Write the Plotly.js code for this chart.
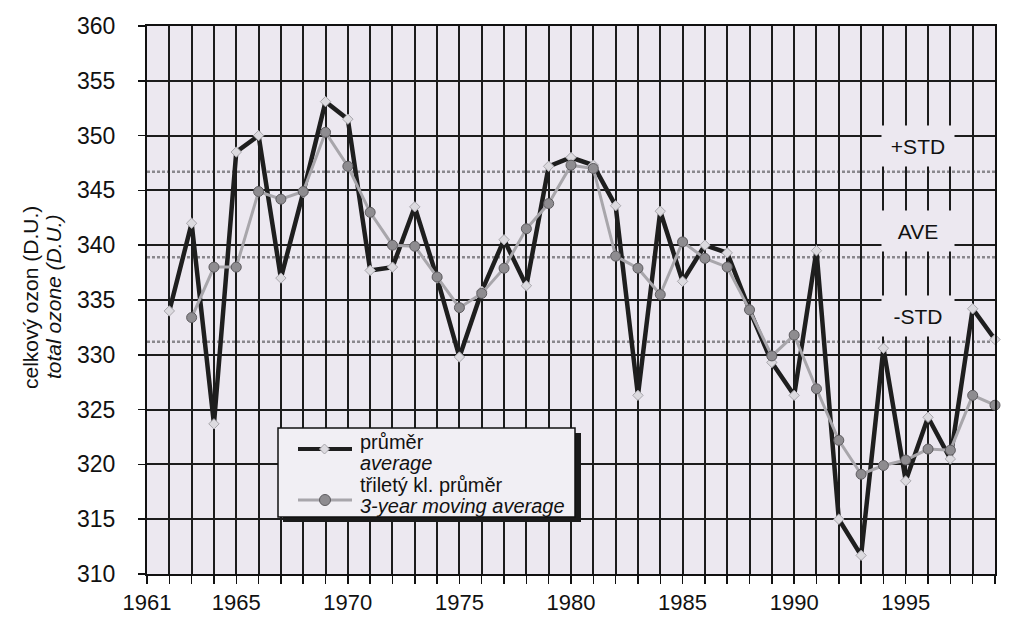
<!DOCTYPE html>
<html>
<head>
<meta charset="utf-8">
<script src="https://cdn.plot.ly/plotly-3.0.1.min.js"></script>
<style>html,body{margin:0;padding:0;background:#fff;}#chart{width:1024px;height:625px;}</style>
</head>
<body>
<div id="chart"></div>
<script>
// ---- data ----
const yearsAvg = [1962,1963,1964,1965,1966,1967,1968,1969,1970,1971,1972,1973,1974,1975,1976,1977,1978,1979,1980,1981,1982,1983,1984,1985,1986,1987,1988,1989,1990,1991,1992,1993,1994,1995,1996,1997,1998,1999];
const avgValues = [334.0,342.0,323.7,348.5,350.0,337.0,344.8,353.1,351.5,337.7,338.0,343.5,337.0,329.8,335.8,340.5,336.3,347.2,348.0,347.3,343.6,326.3,343.1,336.7,340.0,339.3,334.1,329.3,326.3,339.5,315.0,311.7,330.6,318.5,324.3,320.5,334.2,331.4];
const yearsMA = [1963,1964,1965,1966,1967,1968,1969,1970,1971,1972,1973,1974,1975,1976,1977,1978,1979,1980,1981,1982,1983,1984,1985,1986,1987,1988,1989,1990,1991,1992,1993,1994,1995,1996,1997,1998,1999];
const maValues = [333.4,338.0,338.0,344.9,344.2,344.9,350.3,347.2,343.0,340.0,339.9,337.1,334.3,335.6,337.9,341.5,343.8,347.3,347.0,339.0,337.9,335.5,340.3,338.8,338.0,334.1,329.9,331.8,326.9,322.2,319.1,319.9,320.4,321.4,321.3,326.3,325.4];
const refLevels = [346.7, 338.9, 331.2];
const refLabels = ['+STD', 'AVE', '-STD'];
const xTickVals = [1961,1965,1970,1975,1980,1985,1990,1995];
const xTickText = ['1961','1965','1970','1975','1980','1985','1990','1995'];
const yTitleLines = ['celkový ozon (D.U.)', '<i>total ozone (D.U.)</i>'];
const legendLines = ['průměr', '<i>average</i>', 'třiletý kl. průměr', '<i>3-year moving average</i>'];

// ---- geometry helpers (plot area in pixels) ----
const W = 1024, H = 625;
const M = {l:147, r:29, t:26, b:51};
const PL = M.l, PR = W - M.r, PT = M.t, PB = H - M.b;
const px = p => (p - PL) / (PR - PL);
const py = p => (PB - p) / (PB - PT);

const BG = '#ECE8F0';
const FONT = '"Liberation Sans", Arial, sans-serif';

const traces = [
  {
    x: yearsAvg, y: avgValues, type: 'scatter', mode: 'lines+markers', name: 'průměr',
    line: {color: '#1e1e1e', width: 4.5},
    marker: {symbol: 'diamond', size: 8, color: '#dcdadf', line: {color: '#a8a6ac', width: 1}},
    showlegend: false, cliponaxis: false
  },
  {
    x: yearsMA, y: maValues, type: 'scatter', mode: 'lines+markers', name: 'třiletý kl. průměr',
    line: {color: '#a8a6ab', width: 3},
    marker: {symbol: 'circle', size: 10, color: '#8e8c90', line: {color: '#5e5c60', width: 1}},
    showlegend: false, cliponaxis: false
  }
];

const shapes = [];
const annotations = [];

// reference lines (+STD, AVE, -STD)
refLevels.forEach((lv, i) => {
  shapes.push({type: 'line', xref: 'paper', yref: 'y', x0: 0, x1: 1, y0: lv, y1: lv,
    line: {color: '#8a888d', width: 2.5, dash: '3px,2px'}, layer: 'below'});
  annotations.push({xref: 'x', yref: 'y', x: 1995.55, y: lv, yshift: 26, text: refLabels[i],
    showarrow: false, font: {family: FONT, size: 21, color: '#111'},
    bgcolor: BG, width: 72, height: 40, borderpad: 0, xanchor: 'center', yanchor: 'middle'});
});

// y-axis title (two lines, placed precisely)
const yTitleX = [30, 53];
yTitleLines.forEach((t, i) => {
  annotations.push({xref: 'paper', yref: 'paper', x: px(yTitleX[i]), y: py(297), text: t, textangle: -90,
    showarrow: false, xanchor: 'center', yanchor: 'middle', font: {family: FONT, size: 21, color: '#111'}});
});

// manual legend box
shapes.push({type: 'rect', xref: 'paper', yref: 'paper', x0: px(283), x1: px(581), y0: py(522), y1: py(433),
  fillcolor: '#1a1a1a', line: {width: 0}, layer: 'above'});
shapes.push({type: 'rect', xref: 'paper', yref: 'paper', x0: px(278), x1: px(575), y0: py(517), y1: py(428),
  fillcolor: '#F1EFF4', line: {color: '#111', width: 1.5}, layer: 'above'});
// legend symbol 1
shapes.push({type: 'line', xref: 'paper', yref: 'paper', x0: px(298), x1: px(352), y0: py(449), y1: py(449),
  line: {color: '#1e1e1e', width: 4}, layer: 'above'});
shapes.push({type: 'path', xref: 'paper', yref: 'paper', layer: 'above',
  path: `M ${px(324.5)} ${py(444)} L ${px(329.5)} ${py(449)} L ${px(324.5)} ${py(454)} L ${px(319.5)} ${py(449)} Z`,
  fillcolor: '#dcdadf', line: {color: '#a8a6ac', width: 1}});
// legend symbol 2
shapes.push({type: 'line', xref: 'paper', yref: 'paper', x0: px(298), x1: px(352), y0: py(500), y1: py(500),
  line: {color: '#a8a6ab', width: 3}, layer: 'above'});
shapes.push({type: 'circle', xref: 'paper', yref: 'paper', x0: px(319.5), x1: px(330.5), y0: py(505.5), y1: py(494.5),
  fillcolor: '#8e8c90', line: {color: '#5e5c60', width: 1}, layer: 'above'});

const legendY = [442, 463, 485, 506];
legendLines.forEach((t, i) => {
  annotations.push({xref: 'paper', yref: 'paper', x: px(358), y: py(legendY[i]), text: t,
    showarrow: false, xanchor: 'left', yanchor: 'middle', font: {family: FONT, size: 20, color: '#111'}});
});

const layout = {
  width: W, height: H,
  margin: {l: M.l, r: M.r, t: M.t, b: M.b, pad: 0},
  paper_bgcolor: '#ffffff',
  plot_bgcolor: BG,
  font: {family: FONT, size: 22, color: '#111'},
  showlegend: false,
  xaxis: {
    range: [1961, 1999], tickmode: 'array', tickvals: xTickVals, ticktext: xTickText,
    ticks: 'outside', ticklen: 8, tickwidth: 1.5, tickcolor: '#111',
    showgrid: true, gridcolor: '#1c1c1c', gridwidth: 2,
    showline: true, linecolor: '#111', linewidth: 2, mirror: true,
    zeroline: false, tickfont: {family: FONT, size: 22, color: '#111'},
    minor: {tick0: 1961, dtick: 1, ticks: 'outside', ticklen: 8, tickwidth: 1.5, tickcolor: '#111',
            showgrid: true, gridcolor: '#1c1c1c', gridwidth: 2},
    fixedrange: true
  },
  yaxis: {
    range: [310, 360], dtick: 5, tick0: 310,
    ticks: 'outside', ticklen: 7, tickwidth: 1.5, tickcolor: '#111',
    showgrid: true, gridcolor: '#1c1c1c', gridwidth: 2,
    showline: true, linecolor: '#111', linewidth: 2, mirror: true,
    zeroline: false, tickfont: {family: FONT, size: 23, color: '#111'},
    ticklabelstandoff: 18,
    fixedrange: true
  },
  shapes: shapes,
  annotations: annotations
};

Plotly.newPlot('chart', traces, layout, {displayModeBar: false, staticPlot: true});
</script>
</body>
</html>
